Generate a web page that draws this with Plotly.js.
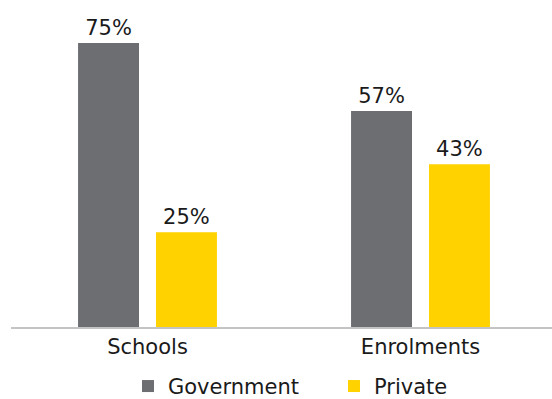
<!DOCTYPE html>
<html>
<head>
<meta charset="utf-8">
<script src="https://cdn.plot.ly/plotly-3.0.1.min.js"></script>
<style>html,body{margin:0;padding:0;background:#fff;}#chart{width:552px;height:399px;}</style>
</head>
<body>
<div id="chart"></div>
<script>
var categories = ["Schools", "Enrolments"];
var government = [75, 57];
var privateVals = [25, 43];
var seriesNames = ["Government", "Private"];

function pct(arr) { return arr.map(function (v) { return v + "%"; }); }

var font = "DejaVu Sans, sans-serif";
var traces = [
  {
    type: "bar", name: seriesNames[0], x: categories, y: government,
    text: pct(government), textposition: "outside", cliponaxis: false,
    textfont: {family: font, size: 21, color: "#1a1a1a"},
    marker: {color: "#6d6e71"}
  },
  {
    type: "bar", name: seriesNames[1], x: categories, y: privateVals,
    text: pct(privateVals), textposition: "outside", cliponaxis: false,
    textfont: {family: font, size: 21, color: "#1a1a1a"},
    marker: {color: "#ffd200"}
  }
];

var layout = {
  width: 552, height: 399,
  margin: {l: 11, r: 0, t: 10, b: 72},
  paper_bgcolor: "#fff", plot_bgcolor: "#fff",
  font: {family: font, size: 21, color: "#1a1a1a"},
  barmode: "group", bargap: 0.429, bargroupgap: 0.218,
  xaxis: {
    type: "category", range: [-0.5, 1.4817], automargin: false,
    showline: true, linecolor: "#c4c4c4", linewidth: 1.5,
    showgrid: false, zeroline: false, ticks: "",
    tickfont: {family: font, size: 21, color: "#1a1a1a"}
  },
  yaxis: {
    range: [0, 83.7], visible: false, showgrid: false, zeroline: false, automargin: false
  },
  showlegend: true,
  legend: {
    orientation: "h", xref: "container", x: 128 / 552, xanchor: "left",
    yref: "container", y: 0.083, yanchor: "top",
    entrywidthmode: "pixels", entrywidth: 161,
    font: {family: font, size: 21, color: "#1a1a1a"},
    bgcolor: "rgba(0,0,0,0)"
  }
};

Plotly.newPlot("chart", traces, layout, {displayModeBar: false, staticPlot: true});
</script>
</body>
</html>
